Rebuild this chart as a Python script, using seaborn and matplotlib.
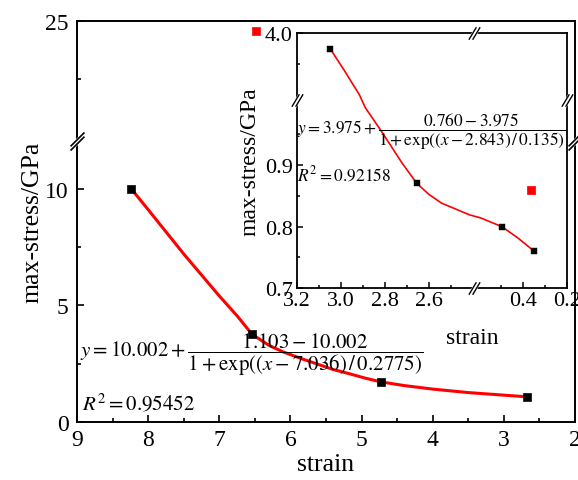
import numpy as np
import matplotlib
matplotlib.use("Agg")
import matplotlib.pyplot as plt
import seaborn as sns
from matplotlib.path import Path

main_x = [8.24, 6.54, 4.73, 2.68]
main_y = [10.0, 3.76, 1.72, 1.08]
main_odd_x = [6.48]
main_odd_y = [24.56]
main_curve_x = [8.24, 8.0, 7.75, 7.5, 7.25, 7.0, 6.75, 6.54, 6.3, 6.1, 5.85,
                5.62, 5.4, 5.15, 4.95, 4.73, 4.4, 4.0, 3.5, 3.0, 2.68]
main_curve_y = [10.0, 9.1, 8.15, 7.2, 6.3, 5.4, 4.55, 3.76, 3.28, 3.0, 2.72,
                2.48, 2.25, 2.05, 1.88, 1.72, 1.56, 1.41, 1.26, 1.15, 1.08]

# inset
ins_x = [3.048, 2.654, 0.497, 0.349]
ins_y = [3.974, 0.870, 0.800, 0.760]
ins_odd_x = [0.364]
ins_odd_y = [0.86]
ins_curve_x = [3.048, 2.984, 2.916, 2.889, 2.818, 2.721, 2.654, 2.598, 2.541,
               2.413, 0.592, 0.497, 0.425, 0.349]
ins_curve_y = [3.974, 3.939, 3.900, 0.993, 0.956, 0.903, 0.870, 0.852, 0.838,
               0.819, 0.814, 0.800, 0.782, 0.760]

main_yticks = [0, 5, 10, 25]
main_yminor = [2.5, 7.5, 22.5]
ins_xticks = [3.2, 3.0, 2.8, 2.6, 0.4, 0.2]
ins_xminor = [3.1, 2.9, 2.7, 2.5, 0.5, 0.3]
ins_yticks = [0.7, 0.8, 0.9, 4.0]
ins_yminor = [0.75, 0.85, 0.95, 3.95]

main_eq = r"$y=10.002+\dfrac{1.103-10.002}{1+\exp((x-7.036)\,/\,0.2775)}$"
main_r2 = r"$R^2=0.95452$"
ins_eq = r"$y=3.975+\dfrac{0.760-3.975}{1+\exp((x-2.843)\,/\,0.135)}$"
ins_r2 = r"$R^2=0.92158$"


def make_break(lo, hi, gap):
    span = hi - lo

    def fwd(v):
        v = np.asarray(v, dtype=float)
        return np.where(v <= lo, v,
                        np.where(v >= hi, v - span + gap, lo + (v - lo) * gap / span))

    def inv(t):
        t = np.asarray(t, dtype=float)
        return np.where(t <= lo, t,
                        np.where(t >= lo + gap, t + span - gap, lo + (t - lo) * span / gap))
    return fwd, inv


# break marks
wide_lines = Path([(-1, -1.3), (1, 0.7), (-1, -0.7), (1, 1.3)],
                  [Path.MOVETO, Path.LINETO, Path.MOVETO, Path.LINETO])
wide_fill = Path([(-1, -1.3), (1, 0.7), (1, 1.3), (-1, -0.7), (-1, -1.3)],
                 [Path.MOVETO, Path.LINETO, Path.LINETO, Path.LINETO, Path.CLOSEPOLY])
steep_lines = Path([(-0.9, -1), (0.3, 1), (-0.3, -1), (0.9, 1)],
                   [Path.MOVETO, Path.LINETO, Path.MOVETO, Path.LINETO])
steep_fill = Path([(-0.9, -1), (-0.3, -1), (0.9, 1), (0.3, 1), (-0.9, -1)],
                  [Path.MOVETO, Path.LINETO, Path.LINETO, Path.LINETO, Path.CLOSEPOLY])


def break_mark(ax, x, y, trans, lines, fill, ms, lw):
    ax.plot([x], [y], transform=trans, marker=fill, ms=ms, mfc="white", mec="white",
            mew=lw * 1.5, ls="none", clip_on=False, zorder=6)
    ax.plot([x], [y], transform=trans, marker=lines, ms=ms, mfc="none", mec="black",
            mew=lw, ls="none", clip_on=False, zorder=7)


sns.set_theme(style="ticks")
plt.rcParams["font.family"] = ["Liberation Serif", "DejaVu Serif"]
plt.rcParams["mathtext.fontset"] = "stix"
plt.rcParams["axes.edgecolor"] = "black"
plt.rcParams["xtick.color"] = "black"
plt.rcParams["ytick.color"] = "black"
plt.rcParams["text.color"] = "black"
plt.rcParams["axes.labelcolor"] = "black"

fig = plt.figure(figsize=(5.78, 4.81), dpi=100)
ax = fig.add_axes([77 / 578, 58 / 481, 498 / 578, 401 / 481])
ins = fig.add_axes([297 / 578, (481 - 289.3) / 481, 270 / 578, 255.3 / 481])

# ---- main plot
sns.lineplot(x=main_curve_x, y=main_curve_y, color="red", lw=2.2, sort=False,
             estimator=None, ax=ax)
sns.scatterplot(x=main_x, y=main_y, marker="s", s=36, color="black",
                edgecolor="black", ax=ax, zorder=3)
sns.scatterplot(x=main_odd_x, y=main_odd_y, marker="s", s=36, color="red",
                edgecolor="red", ax=ax, zorder=3)

f, i = make_break(12.0, 19.87, 0.05)
ax.set_yscale("function", functions=(f, i))
ax.set_ylim(0, 25)
ax.set_xlim(9, 2)
ax.set_xticks(range(9, 1, -1))
ax.set_xticks(np.arange(8.5, 2, -1), minor=True)
ax.set_yticks(main_yticks)
ax.set_yticklabels([str(v) for v in main_yticks])
ax.set_yticks(main_yminor, minor=True)
ax.yaxis.set_minor_formatter(plt.NullFormatter())
ax.tick_params(which="both", direction="in", top=False, right=False, width=1.2)
ax.tick_params(which="major", length=5, labelsize=17)
ax.tick_params(which="minor", length=3)
ax.tick_params(axis="x", pad=5)
ax.tick_params(axis="y", pad=6)
for s in ax.spines.values():
    s.set_linewidth(1.4)
ax.set_xlabel("strain", fontsize=18.5, labelpad=2)
ax.set_ylabel("max-stress/GPa", fontsize=18.5, labelpad=1)

ax.text(0.006, 0.17, main_eq, transform=ax.transAxes, fontsize=15, ha="left", va="center")
ax.text(0.01, 0.047, main_r2, transform=ax.transAxes, fontsize=15, ha="left", va="center")

yb = (12.0 + 19.87) / 2
break_mark(ax, 0, yb, ax.get_yaxis_transform(), wide_lines, wide_fill, 13, 1.2)
break_mark(ax, 1, yb, ax.get_yaxis_transform(), wide_lines, wide_fill, 13, 1.2)

# ---- inset
ins.set_facecolor("white")
sns.lineplot(x=ins_curve_x, y=ins_curve_y, color="red", lw=1.2, sort=False,
             estimator=None, ax=ins)
sns.scatterplot(x=ins_x, y=ins_y, marker="s", s=14, color="black",
                edgecolor="black", ax=ins, zorder=3)
sns.scatterplot(x=ins_odd_x, y=ins_odd_y, marker="s", s=40, color="red",
                edgecolor="red", ax=ins, zorder=3)

fx, ix = make_break(0.62, 2.4, 0.01)
fy, iy = make_break(1.003, 3.893, 0.004)
ins.set_xscale("function", functions=(fx, ix))
ins.set_yscale("function", functions=(fy, iy))
ins.set_xlim(3.2, 0.2)
ins.set_ylim(0.7, 4.0)
ins.set_xticks(ins_xticks)
ins.set_xticklabels([f"{v:.1f}" for v in ins_xticks])
ins.set_xticks(ins_xminor, minor=True)
ins.set_yticks(ins_yticks)
ins.set_yticklabels([f"{v:.1f}" for v in ins_yticks])
ins.set_yticks(ins_yminor, minor=True)
ins.xaxis.set_minor_formatter(plt.NullFormatter())
ins.yaxis.set_minor_formatter(plt.NullFormatter())
ins.tick_params(which="both", direction="in", top=False, right=False, width=1.1)
ins.tick_params(which="major", length=4, labelsize=16)
ins.tick_params(which="minor", length=2.5)
ins.tick_params(axis="x", pad=2)
ins.tick_params(axis="y", pad=3)
for s in ins.spines.values():
    s.set_linewidth(1.3)
ins.set_xlabel("strain", fontsize=17, va="top")
ins.xaxis.set_label_coords((472 - 297) / 270, -(328 - 289.3) / 255.3)
ins.set_ylabel("max-stress/GPa", fontsize=17, labelpad=3)

ins.text(0.0, 0.617, ins_eq, transform=ins.transAxes, fontsize=12.5, ha="left", va="center")
ins.text(0.0, 0.448, ins_r2, transform=ins.transAxes, fontsize=12.5, ha="left", va="center")

ybi = (1.003 + 3.893) / 2
xbi = (0.62 + 2.4) / 2
break_mark(ins, 0, ybi, ins.get_yaxis_transform(), steep_lines, steep_fill, 9, 1.0)
break_mark(ins, 1, ybi, ins.get_yaxis_transform(), steep_lines, steep_fill, 9, 1.0)
break_mark(ins, xbi, 0, ins.get_xaxis_transform(), steep_lines, steep_fill, 9, 1.0)
break_mark(ins, xbi, 1, ins.get_xaxis_transform(), steep_lines, steep_fill, 9, 1.0)

fig.savefig("out.png", dpi=100)
